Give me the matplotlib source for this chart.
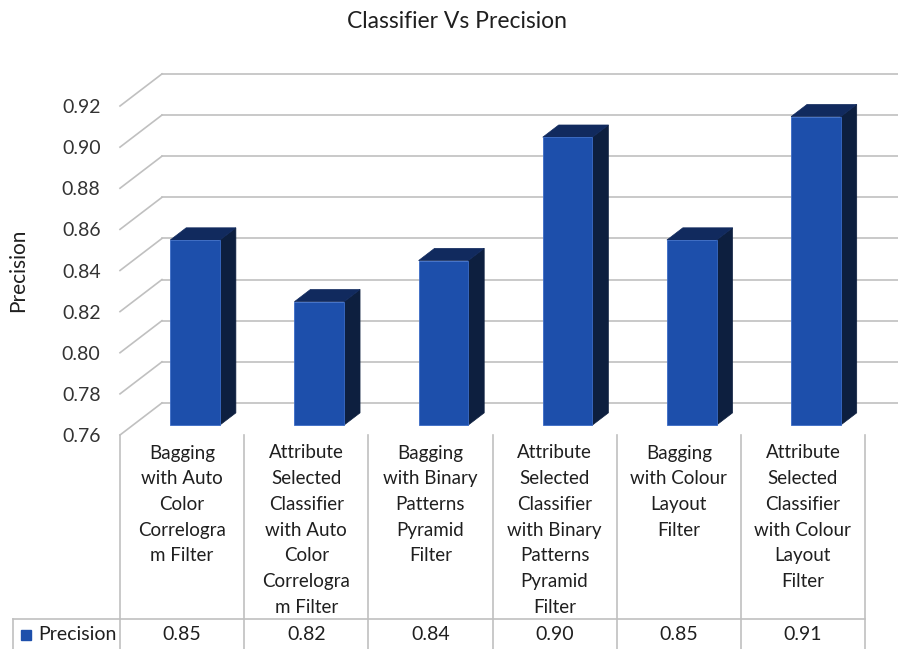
import matplotlib.pyplot as plt
from matplotlib.lines import Line2D
from matplotlib.patches import Polygon
from matplotlib.transforms import blended_transform_factory

plt.rcParams['font.family'] = ['Lato', 'DejaVu Sans']

# Classifier precision values
categories = [
    "Bagging\nwith Auto\nColor\nCorrelogra\nm Filter",
    "Attribute\nSelected\nClassifier\nwith Auto\nColor\nCorrelogra\nm Filter",
    "Bagging\nwith Binary\nPatterns\nPyramid\nFilter",
    "Attribute\nSelected\nClassifier\nwith Binary\nPatterns\nPyramid\nFilter",
    "Bagging\nwith Colour\nLayout\nFilter",
    "Attribute\nSelected\nClassifier\nwith Colour\nLayout\nFilter",
]
precision = [0.85, 0.82, 0.84, 0.90, 0.85, 0.91]
series_name = "Precision"
y_ticks = [0.76, 0.78, 0.80, 0.82, 0.84, 0.86, 0.88, 0.90, 0.92]

W, H = 898, 649
FRONT = '#1D4FAB'
SIDE = '#0D1F3F'
TOP = '#112A5E'
GRID = '#C0C0C0'
TEXT = '#333333'
INK = '#1F1F1F'

# depth of the 3d box in data units (x: categories, y: value)
DX = 0.338
DY = 0.0156
# bar occupies this slice of the depth (0 = front, 1 = back)
D1, D2 = 0.31, 0.69
HALF = 0.2


def fx(px):
    return px / W


def fy(py):
    return 1 - py / H


fig = plt.figure(figsize=(W / 100, H / 100), dpi=100)
# axes covers the front plane of the 3d box
ax = fig.add_axes([fx(120), fy(435), 745 / W, 329 / H])
n = len(precision)
ax.set_xlim(0, n)
ax.set_ylim(y_ticks[0], y_ticks[-1])
for s in ax.spines.values():
    s.set_visible(False)
ax.set_xticks([])
ax.set_yticks(y_ticks)
ax.set_yticklabels([f"{v:.2f}" for v in y_ticks], fontsize=14, color=TEXT)
ax.tick_params(axis='y', length=0, pad=14)
ax.patch.set_alpha(0)

# back wall and side wall gridlines
base = y_ticks[0]
for v in y_ticks:
    ax.plot([DX, n + DX], [v + DY, v + DY], color=GRID, lw=1.2, clip_on=False, zorder=1)
    ax.plot([0, DX], [v, v + DY], color=GRID, lw=1.2, clip_on=False, zorder=1)

# 3d columns
for i, v in enumerate(precision):
    c = i + 0.5
    x0, x1 = c - HALF, c + HALF
    front = [(x0 + D1 * DX, base + D1 * DY), (x1 + D1 * DX, base + D1 * DY),
             (x1 + D1 * DX, v + D1 * DY), (x0 + D1 * DX, v + D1 * DY)]
    side = [(x1 + D1 * DX, base + D1 * DY), (x1 + D2 * DX, base + D2 * DY),
            (x1 + D2 * DX, v + D2 * DY), (x1 + D1 * DX, v + D1 * DY)]
    top = [(x0 + D1 * DX, v + D1 * DY), (x1 + D1 * DX, v + D1 * DY),
           (x1 + D2 * DX, v + D2 * DY), (x0 + D2 * DX, v + D2 * DY)]
    ax.add_patch(Polygon(side, closed=True, fc=SIDE, ec=SIDE, lw=0.5, zorder=3, clip_on=False))
    ax.add_patch(Polygon(top, closed=True, fc=TOP, ec=TOP, lw=0.5, zorder=3, clip_on=False))
    ax.add_patch(Polygon(front, closed=True, fc=FRONT, ec='#3A6BC6', lw=0.6, zorder=4, clip_on=False))

# data table under the chart
tr = blended_transform_factory(ax.transData, fig.transFigure)
for k in range(n + 1):
    fig.add_artist(Line2D([k, k], [fy(435), 0], transform=tr, color=GRID, lw=1.2))
fig.add_artist(Line2D([fx(13), fx(120)], [fy(619), fy(619)], color=GRID, lw=1.2))
fig.add_artist(Line2D([0, n], [fy(619), fy(619)], transform=tr, color=GRID, lw=1.2))
fig.add_artist(Line2D([fx(13), fx(13)], [fy(619), 0], color=GRID, lw=1.2))

for i, (label, v) in enumerate(zip(categories, precision)):
    for j, line in enumerate(label.split("\n")):
        fig.text(i + 0.5, fy(453 + j * 25.7), line, transform=tr,
                 ha='center', va='center', fontsize=13.5, color=INK)
    fig.text(i + 0.5, fy(634), f"{v:.2f}", transform=tr,
             ha='center', va='center', fontsize=14, color=INK)

fig.add_artist(Line2D([fx(26)], [fy(635)], marker='s', markersize=7, color=FRONT, lw=0))
fig.text(fx(38), fy(634), series_name, ha='left', va='center', fontsize=14, color=INK)

fig.text(fx(457), fy(22), "Classifier Vs Precision", ha='center', va='center',
         fontsize=16.5, color=INK)
fig.text(fx(18), fy(270), "Precision", ha='center', va='center', rotation=90,
         fontsize=15, color=INK)

fig.savefig("out.png", dpi=100)
